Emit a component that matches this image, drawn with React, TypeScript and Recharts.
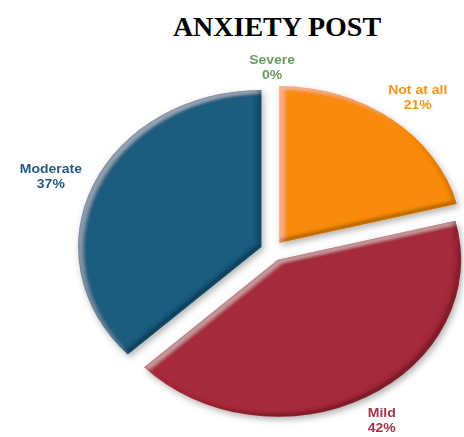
import React from "react";
import { Cell, Pie, PieChart } from "recharts";

const categories = ["Not at all", "Mild", "Moderate", "Severe"];
const values = [21, 42, 37, 0];
const sliceColors = ["#f88b0f", "#a52b3b", "#1f5b7f", "#6a9f5e"];
const labelColors = ["#f7941e", "#a73346", "#245b83", "#6b9d5f"];

const W = 464;
const H = 437;
// the reference picture is stretched sideways, so the pie is an ellipse
const STRETCH = 1.168;
const INNER_W = W / STRETCH;
const CX = 233;
const CY = 251;
const R = 157;
const EXPLODE = 10;

const data = categories.map((name, i) => ({ name, value: values[i] }));
const total = values.reduce((a, b) => a + b, 0);

// mid angle of each slice, clockwise from 12 o'clock (used only to push slices out)
const midAngles = values.map((v, i) => {
  const before = values.slice(0, i).reduce((a, b) => a + b, 0);
  return ((before + v / 2) / total) * 360;
});

let ctx: CanvasRenderingContext2D | null = null;
function textWidth(t: string) {
  if (!ctx) ctx = document.createElement("canvas").getContext("2d");
  if (!ctx) return t.length * 7;
  ctx.font = "bold 12px 'Liberation Sans'";
  return ctx.measureText(t).width;
}

function renderLabel(props: any) {
  const { cx, cy, midAngle, outerRadius, index, percent } = props;
  const name = categories[index];
  const pct = `${Math.round(percent * 100)}%`;
  const halfW = Math.max(textWidth(name), textWidth(pct)) / 2;
  const halfH = 15;
  const rad = (-midAngle * Math.PI) / 180;
  const ux = Math.cos(rad);
  const uy = Math.sin(rad);
  const d = outerRadius + EXPLODE + 9 + Math.abs(ux) * halfW + Math.abs(uy) * halfH;
  const x = cx + d * ux;
  // keep the second line inside the picture
  const y = Math.min(cy + d * uy + 7, H - 5 - 11.8);
  return (
    <text
      key={`lbl-${index}`}
      x={x}
      y={y}
      textAnchor="middle"
      fill={labelColors[index]}
      fontFamily="'Liberation Sans', Arial, sans-serif"
      fontSize={12}
      fontWeight="bold"
    >
      <tspan x={x} y={y - 3.2}>
        {name}
      </tspan>
      <tspan x={x} y={y + 11.8}>
        {pct}
      </tspan>
    </text>
  );
}

export default function App() {
  return (
    <div style={{ position: "absolute", left: 0, top: 0, width: W, height: H, background: "#fff", overflow: "hidden" }}>
      <svg width={0} height={0} style={{ position: "absolute" }}>
        <defs>
          <filter id="bevel" x="-20%" y="-20%" width="140%" height="140%">
            <feOffset in="SourceAlpha" dx={3} dy={3} result="offA" />
            <feComposite in="SourceAlpha" in2="offA" operator="out" result="tlRim" />
            <feGaussianBlur in="tlRim" stdDeviation={1.6} result="tlBlur" />
            <feComposite in="tlBlur" in2="SourceAlpha" operator="in" result="tlClip" />
            <feFlood floodColor="#ffffff" floodOpacity={0.35} />
            <feComposite in2="tlClip" operator="in" result="hl" />
            <feOffset in="SourceAlpha" dx={-3} dy={-3} result="offB" />
            <feComposite in="SourceAlpha" in2="offB" operator="out" result="brRim" />
            <feGaussianBlur in="brRim" stdDeviation={1.6} result="brBlur" />
            <feComposite in="brBlur" in2="SourceAlpha" operator="in" result="brClip" />
            <feFlood floodColor="#000000" floodOpacity={0.55} />
            <feComposite in2="brClip" operator="in" result="sh" />
            <feGaussianBlur in="SourceAlpha" stdDeviation={3} result="dsBlur" />
            <feOffset in="dsBlur" dx={2} dy={3} result="dsOff" />
            <feFlood floodColor="#000000" floodOpacity={0.3} />
            <feComposite in2="dsOff" operator="in" result="ds" />
            <feMerge>
              <feMergeNode in="ds" />
              <feMergeNode in="SourceGraphic" />
              <feMergeNode in="hl" />
              <feMergeNode in="sh" />
            </feMerge>
          </filter>
        </defs>
      </svg>

      <div
        style={{
          position: "absolute",
          left: 127,
          top: 13,
          width: 300,
          textAlign: "center",
          fontFamily: "'Liberation Serif', 'Times New Roman', serif",
          fontWeight: "bold",
          fontSize: 28,
          lineHeight: "28px",
          color: "#000",
        }}
      >
        ANXIETY POST
      </div>

      <div
        style={{
          position: "absolute",
          left: 0,
          top: 0,
          width: INNER_W,
          height: H,
          transform: `scaleX(${STRETCH})`,
          transformOrigin: "0 0",
        }}
      >
        <PieChart width={INNER_W} height={H} margin={{ top: 0, right: 0, bottom: 0, left: 0 }}>
          {data.map((_, k) => {
            if (values[k] === 0) return null;
            const a = (midAngles[k] * Math.PI) / 180;
            return (
              <Pie
                key={`slice-${k}`}
                data={data}
                dataKey="value"
                nameKey="name"
                cx={CX + EXPLODE * Math.sin(a)}
                cy={CY - EXPLODE * Math.cos(a)}
                outerRadius={R}
                startAngle={90}
                endAngle={-270}
                stroke="none"
                isAnimationActive={false}
              >
                {data.map((d, i) => (
                  <Cell
                    key={d.name}
                    fill={i === k ? sliceColors[i] : "none"}
                    filter={i === k ? "url(#bevel)" : undefined}
                  />
                ))}
              </Pie>
            );
          })}
          <Pie
            data={data}
            dataKey="value"
            nameKey="name"
            cx={CX}
            cy={CY}
            outerRadius={R}
            startAngle={90}
            endAngle={-270}
            fill="none"
            stroke="none"
            label={renderLabel}
            labelLine={false}
            isAnimationActive={false}
          />
        </PieChart>
      </div>
    </div>
  );
}
